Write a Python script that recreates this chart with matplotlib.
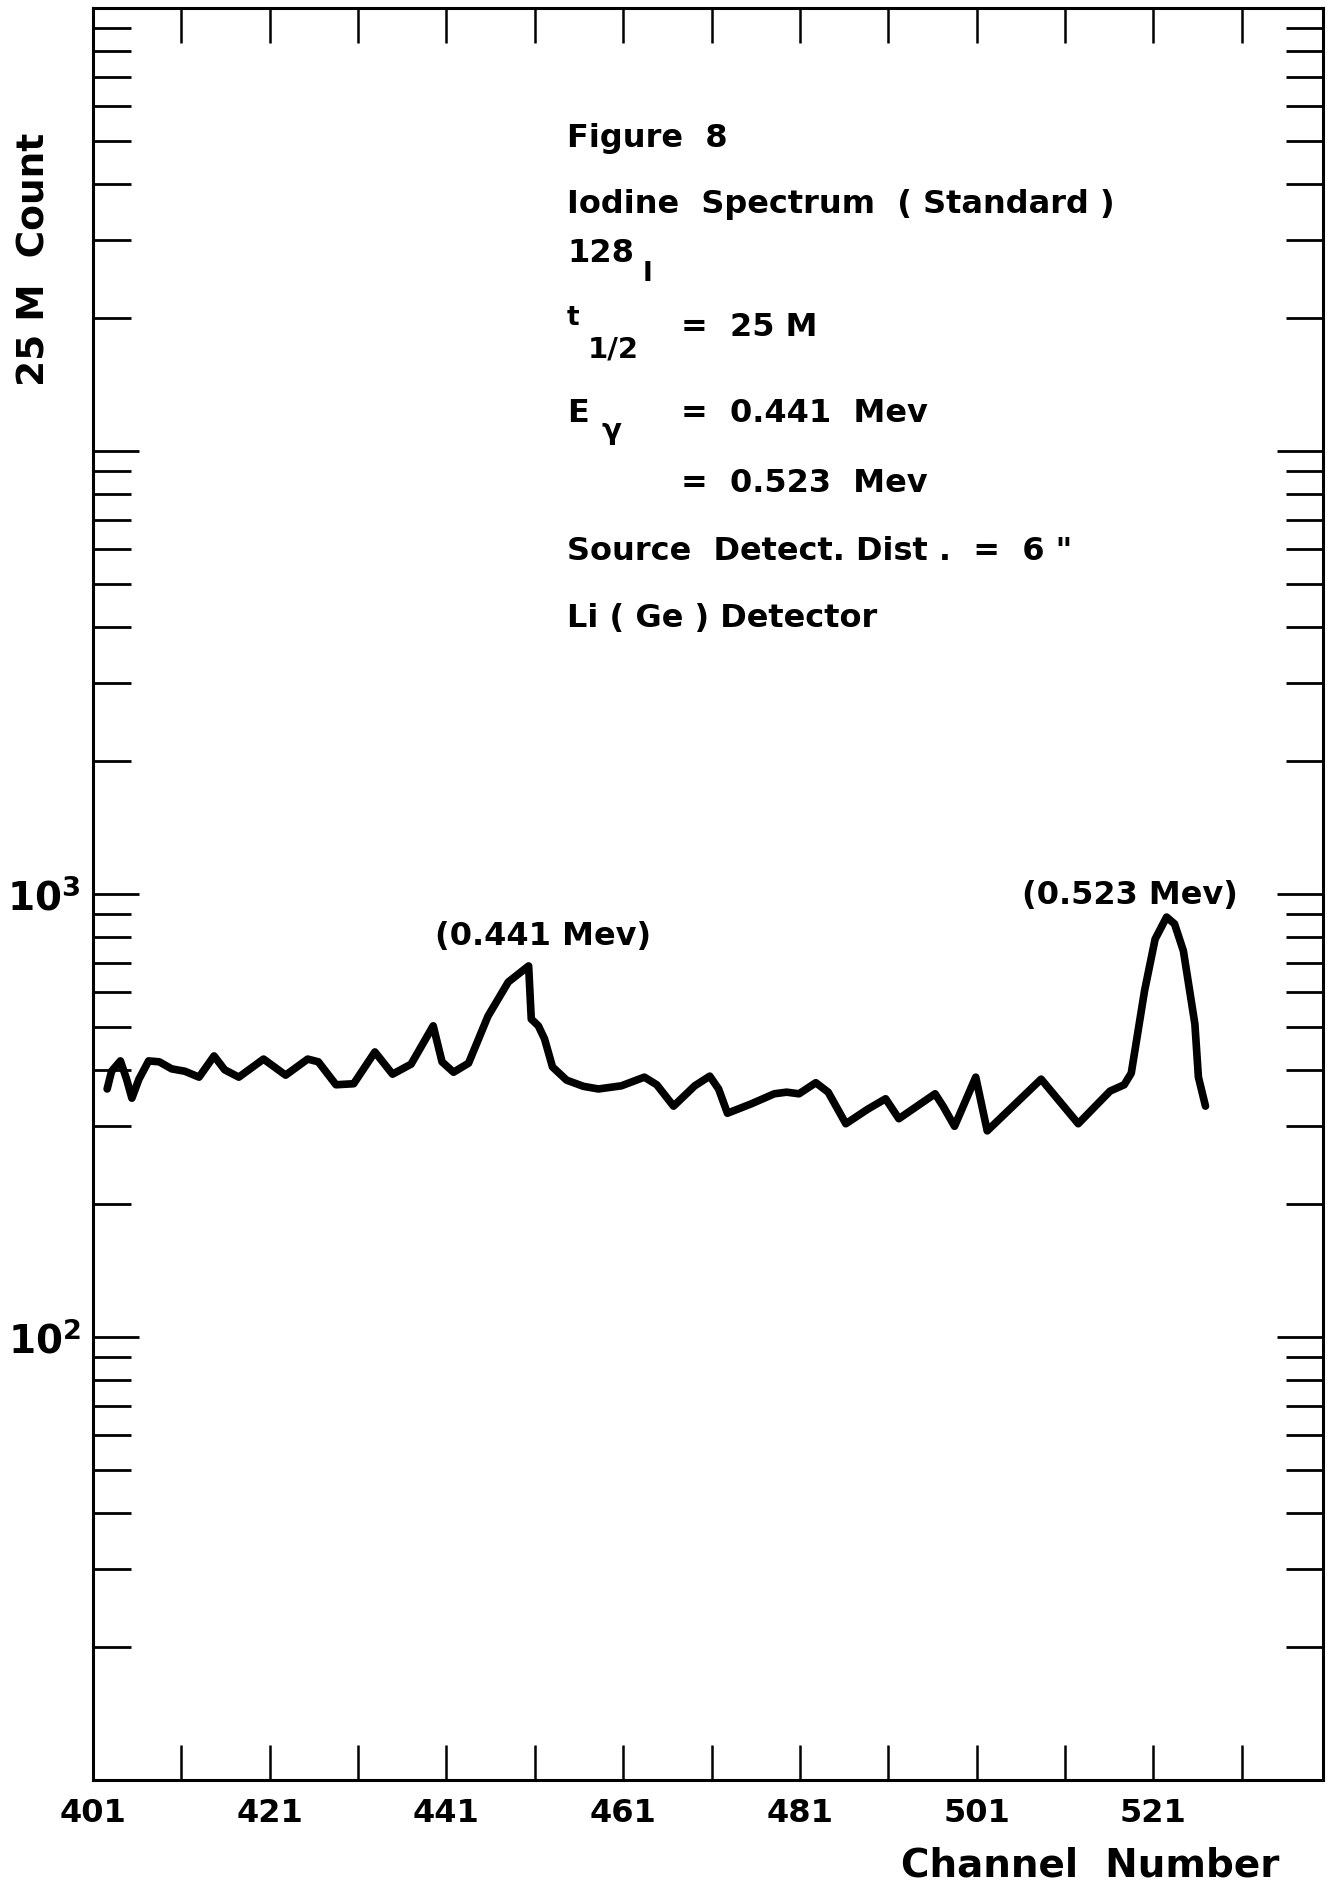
import numpy as np
import matplotlib
matplotlib.use('Agg')
from matplotlib import pyplot as plt
from matplotlib.ticker import LogLocator, NullFormatter

# spectrum (channel, 25 M count)
channel = [402.6, 403.1, 404.1, 404.8, 405.4, 406.2, 407.3, 408.5, 409.9, 411.4,
           413.0, 414.7, 415.9, 417.5, 420.3, 422.8, 425.3, 426.5, 428.5, 430.5,
           432.9, 434.9, 437.0, 439.5, 440.5, 441.8, 443.5, 445.7, 448.0, 450.3,
           450.6, 451.4, 452.1, 453.0, 454.6, 456.5, 458.2, 460.8, 463.4, 464.8, 466.7,
           469.1, 470.8, 471.8, 472.8, 475.5, 478.1, 479.5, 480.9, 482.8, 484.2,
           486.2, 488.7, 490.7, 492.2, 496.3, 497.2, 498.5, 500.9, 502.2, 508.3,
           512.5, 516.1, 517.7, 518.5, 520.0, 521.2, 522.5, 523.4, 524.4, 525.7,
           526.1, 526.9]
counts = [363, 398, 420, 382, 346, 382, 420, 418, 403, 398,
          386, 431, 401, 386, 424, 390, 424, 418, 371, 373,
          440, 392, 413, 504, 418, 396, 415, 530, 633, 688,
          522, 504, 471, 407, 380, 368, 363, 369, 386, 371, 332,
          369, 388, 363, 320, 336, 354, 357, 354, 375, 357,
          303, 327, 345, 311, 354, 332, 299, 386, 292, 382,
          303, 359, 371, 394, 604, 791, 887, 856, 744, 509,
          386, 332]

x_major = [401, 421, 441, 461, 481, 501, 521]
x_labels = ['401', '421', '441', '461', '481', '501', '521']
x_minor = [411, 431, 451, 471, 491, 511, 531]
y_major = [10, 100, 1000, 10000, 100000]
y_labels = ['', r'$\mathregular{10^2}$', r'$\mathregular{10^3}$', '', '']

peak_labels = ['(0.441 Mev)', '(0.523 Mev)']
peak_x = [451.9, 518.3]
peak_y = [808, 995]

W, H = 1334, 1890


def ftxt(fig, px, py, s, size=23, **kw):
    fig.text(px / W, 1 - py / H, s, fontsize=size, va='center', ha='left',
             fontweight='bold', **kw)


def main():
    plt.rcParams['font.family'] = ['DejaVu Sans']
    plt.rcParams['font.weight'] = 'bold'
    plt.rcParams['mathtext.default'] = 'bf'
    fig = plt.figure(figsize=(W / 100, H / 100), dpi=100)
    ax = fig.add_axes([93 / W, 109 / H, 1230 / W, 1772 / H])

    ax.plot(channel, counts, color='black', lw=5.5,
            solid_joinstyle='round', solid_capstyle='round')
    ax.set_yscale('log')
    ax.set_ylim(10, 1e5)
    ax.set_xlim(401, 540.2)

    ax.set_xticks(x_major, x_labels)
    ax.set_xticks(x_minor, minor=True)
    ax.tick_params(axis='x', which='both', direction='in', top=True, bottom=True,
                   length=25, width=1.8, pad=12, labelsize=23)

    ax.set_yticks(y_major, y_labels)
    ax.yaxis.set_minor_locator(LogLocator(base=10, subs=np.arange(2, 10)))
    ax.yaxis.set_minor_formatter(NullFormatter())
    ax.tick_params(axis='y', which='major', direction='in', left=True, right=True,
                   length=33, width=2, pad=9, labelsize=28)
    ax.tick_params(axis='y', which='minor', direction='in', left=True, right=True,
                   length=27, width=2)
    for sp in ax.spines.values():
        sp.set_linewidth(2.2)

    for lab, x, y in zip(peak_labels, peak_x, peak_y):
        ax.text(x, y, lab, fontsize=23, ha='center', va='center',
                fontweight='bold')

    # descriptive text block
    ftxt(fig, 567, 138, 'Figure  8')
    ftxt(fig, 567, 204, 'Iodine  Spectrum  ( Standard )')
    ftxt(fig, 567, 254, '128')
    ftxt(fig, 643, 274, 'I', size=19)
    ftxt(fig, 567, 318, 't', size=19)
    ftxt(fig, 588, 350, '1/2', size=21)
    ftxt(fig, 681, 327, '=  25 M')
    ftxt(fig, 567, 413, 'E')
    ftxt(fig, 601, 431, 'γ', size=21)
    ftxt(fig, 681, 413, '=  0.441  Mev')
    ftxt(fig, 681, 483, '=  0.523  Mev')
    ftxt(fig, 567, 551, 'Source  Detect. Dist .  =  6 "')
    ftxt(fig, 567, 619, 'Li ( Ge ) Detector')

    fig.text(1090 / W, 1 - 1866 / H, 'Channel  Number', fontsize=28,
             ha='center', va='center', fontweight='bold')
    fig.text(35 / W, 1 - 259 / H, '25 M  Count', fontsize=27, rotation=90,
             ha='center', va='center', fontweight='bold')

    fig.savefig('out.png', dpi=100, facecolor='white')


if __name__ == '__main__':
    main()
